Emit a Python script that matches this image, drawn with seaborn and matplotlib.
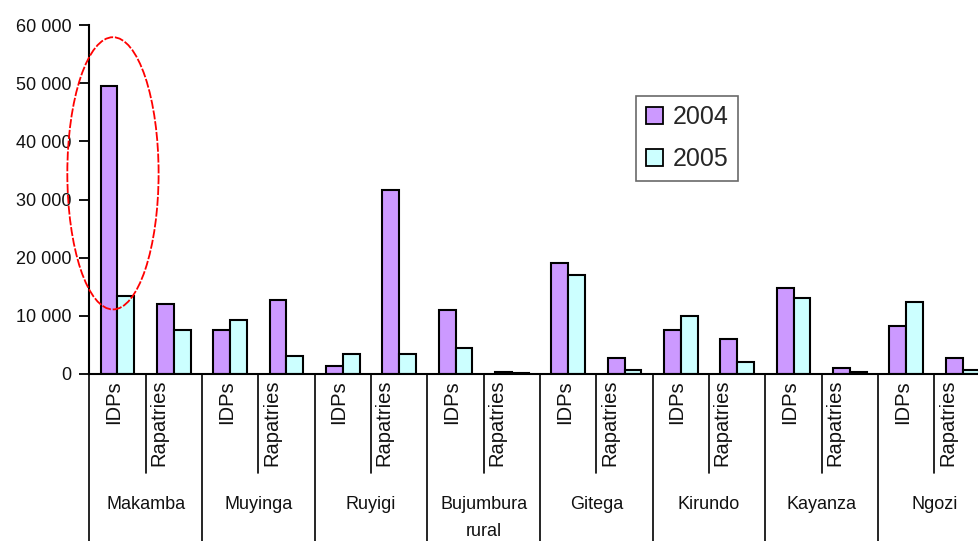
import numpy as np
import pandas as pd
import matplotlib
matplotlib.use("Agg")
import matplotlib.pyplot as plt
import matplotlib.transforms as mtransforms
from matplotlib.patches import Ellipse
from matplotlib.ticker import FuncFormatter
import seaborn as sns

# ---- data ----
provinces = ["Makamba", "Muyinga", "Ruyigi", "Bujumbura\nrural", "Gitega",
             "Kirundo", "Kayanza", "Ngozi"]
sub_types = ["IDPs", "Rapatries"]
years = ["2004", "2005"]
values_2004 = [49500, 12000, 7500, 12700, 1400, 31600, 11000, 300,
               19100, 2700, 7500, 6100, 14800, 1000, 8200, 2700]
values_2005 = [13400, 7500, 9300, 3100, 3400, 3400, 4500, 200,
               17100, 700, 10000, 2100, 13100, 300, 12400, 700]
y_ticks = [0, 10000, 20000, 30000, 40000, 50000, 60000]

# highlight ellipse around Makamba IDPs (annotation)
ellipse_center = (-0.08, 34500)
ellipse_size = (1.62, 46800)

categories = [f"{p}|{s}" for p in provinces for s in sub_types]
df = pd.DataFrame({
    "category": categories * 2,
    "value": values_2004 + values_2005,
    "year": [years[0]] * len(categories) + [years[1]] * len(categories),
})

sns.set_style("white")
plt.rcParams["font.family"] = ["Liberation Sans", "DejaVu Sans"]

fig = plt.figure(figsize=(9.79, 5.41), dpi=100)
ax = fig.add_axes([89.3 / 979, 167 / 541, (979 - 89.3) / 979, 349 / 541])

sns.barplot(data=df, x="category", y="value", hue="year", order=categories,
            hue_order=years, palette=["#CC99FF", "#CCFFFF"], saturation=1,
            width=0.6, edgecolor="black", linewidth=1.5, ax=ax, errorbar=None)

ax.set_xlim(-0.5, -0.5 + (979 - 89.3) / 56.34)
ax.set_ylim(0, 60000)
ax.set_yticks(y_ticks)
ax.yaxis.set_major_formatter(FuncFormatter(lambda v, p: f"{int(v):,}".replace(",", " ")))
ax.tick_params(axis="y", left=True, length=7, width=1.3, color="black",
               labelsize=13, pad=6, labelcolor="#111111")
ax.tick_params(axis="x", bottom=False, labelbottom=False)
ax.set_xlabel("")
ax.set_ylabel("")
for s in ["top", "right"]:
    ax.spines[s].set_visible(False)
for s in ["left", "bottom"]:
    ax.spines[s].set_color("black")
    ax.spines[s].set_linewidth(1.5)

# multi-level category axis
trans = mtransforms.blended_transform_factory(ax.transData, ax.transAxes)
n = len(categories)
for i in range(n):
    sub = sub_types[i % 2]
    dx = -4 if sub == "IDPs" else -15
    off = mtransforms.ScaledTranslation(dx / 100, 0, fig.dpi_scale_trans)
    ax.text(i, -0.017, sub, rotation=90, ha="center", va="top", fontsize=14.5,
            color="#111111", transform=trans + off, clip_on=False)
    if i % 2 == 1:
        ax.plot([i - 0.5, i - 0.5], [0, -0.284], color="black", lw=1.2,
                transform=trans, clip_on=False)
for g, name in enumerate(provinces):
    left = 2 * g - 0.5
    ax.plot([left, left], [0, -0.6], color="black", lw=1.2,
            transform=trans, clip_on=False)
    ax.text(2 * g + 0.5, -0.35, name, ha="center", va="top", fontsize=13,
            color="#111111", linespacing=1.75, transform=trans, clip_on=False)

# highlight
ax.add_patch(Ellipse(ellipse_center, ellipse_size[0], ellipse_size[1],
                     fill=False, edgecolor="red", lw=1.3,
                     linestyle=(0, (5, 1)), clip_on=False, zorder=5))

leg = ax.legend(loc="upper left", bbox_to_anchor=(0.6145, 0.797),
                borderaxespad=0, fontsize=18, frameon=True, fancybox=False,
                handlelength=0.7, handleheight=0.7, handletextpad=0.4,
                borderpad=0.38, labelspacing=0.72)
leg.get_frame().set_edgecolor("#444444")
leg.get_frame().set_linewidth(1.2)
for h in leg.legend_handles:
    h.set_edgecolor("black")
    h.set_linewidth(1.3)

fig.savefig("out.png", dpi=100)
